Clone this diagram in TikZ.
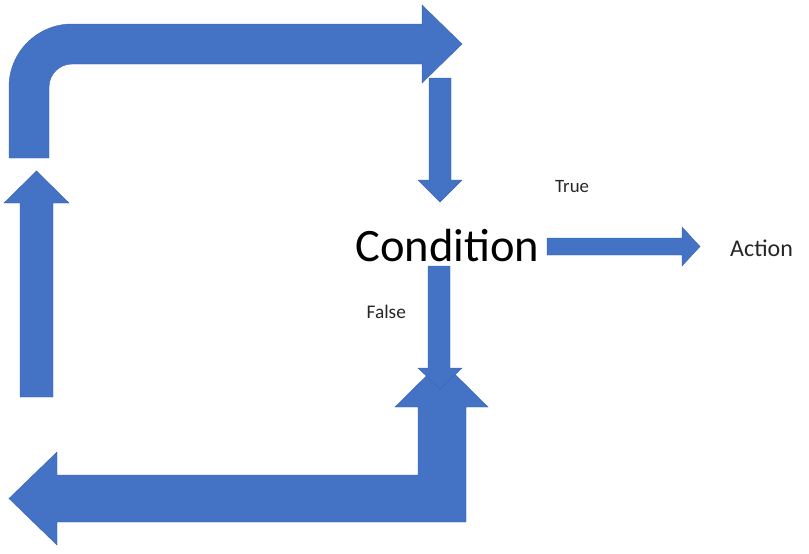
\documentclass[tikz,border=0pt]{standalone}
\usepackage{fontspec}
\setmainfont{Carlito}
\definecolor{arrowblue}{HTML}{4472C4}
\definecolor{arrowedge}{HTML}{3A64B0}
\begin{document}
\begin{tikzpicture}[x=1pt,y=-1pt,
  blockarrow/.style={fill=arrowblue,draw=arrowedge,line width=0.4pt,line join=miter},
  lbl/.style={inner sep=0pt,anchor=base west,text=black!85}]
\useasboundingbox (0,0) rectangle (809,554);
% top bent arrow (rounded corner)
\path[blockarrow] (9,158) -- (9,87) .. controls (9,52.2) and (37.2,24) .. (72,24)
  -- (422,24) -- (422,5) -- (462,44) -- (422,83) -- (422,64) -- (72,64)
  .. controls (59.3,64) and (49,74.3) .. (49,87) -- (49,158) -- cycle;
% down arrow into condition
\path[blockarrow] (429,78) -- (451,78) -- (451,180) -- (462,180) -- (440,202)
  -- (418,180) -- (429,180) -- cycle;
% left up arrow
\path[blockarrow] (20,397) -- (20,203) -- (4,203) -- (36.5,171) -- (69,203)
  -- (53,203) -- (53,397) -- cycle;
% bottom L-shaped arrow
\path[blockarrow] (466,522) -- (466,407) -- (488,407) -- (441.5,361) -- (395,407)
  -- (418,407) -- (418,475) -- (57,475) -- (57,452) -- (9,498.5) -- (57,545)
  -- (57,522) -- cycle;
% false arrow (down from condition)
\path[blockarrow] (428,266) -- (450,266) -- (450,368) -- (462,368) -- (440,389)
  -- (418,368) -- (428,368) -- cycle;
% true arrow (to action)
\path[blockarrow] (547,238) -- (682,238) -- (682,227) -- (700,246.5) -- (682,266)
  -- (682,255) -- (547,255) -- cycle;
% texts
\node[inner sep=0pt,anchor=base] (cond) at (447.5,261) {\fontsize{46.5}{56}\selectfont Condition};
\node[lbl] (true) at (555,192) {\fontsize{18.8}{22}\selectfont True};
\node[lbl] (false) at (366.5,318) {\fontsize{19.3}{22}\selectfont False};
\node[lbl] (action) at (730,256) {\fontsize{24}{28}\selectfont Action};
\end{tikzpicture}
\end{document}
